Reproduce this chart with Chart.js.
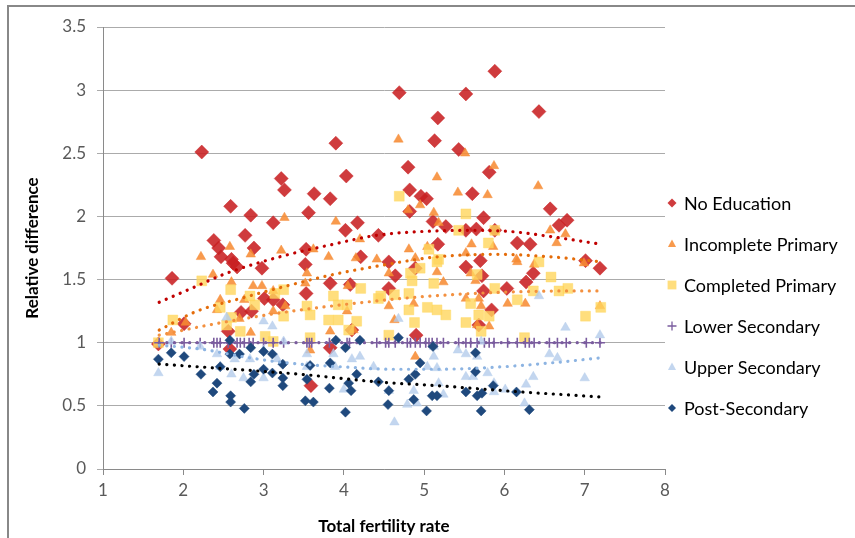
<!DOCTYPE html>
<html>
<head>
<meta charset="utf-8">
<script src="https://cdn.jsdelivr.net/npm/chart.js@4/dist/chart.umd.min.js"></script>
<style>
  body { margin: 0; background: #fff; }
  #wrap { position: relative; width: 855px; height: 538px; overflow: hidden; }
  #frame { position: absolute; left: 7px; top: 5px; width: 900px; height: 600px;
           border-left: 2px solid #888; border-top: 2px solid #888; }
  canvas { position: absolute; left: 0; top: 0; }
</style>
</head>
<body>
<div id="wrap">
  <div id="frame"></div>
  <canvas id="fertChart" width="855" height="538"></canvas>
</div>
<script>
// series names and tick values
const seriesNames = ['No Education', 'Incomplete Primary', 'Completed Primary',
                     'Lower Secondary', 'Upper Secondary', 'Post-Secondary'];
const xTickValues = [1, 2, 3, 4, 5, 6, 7, 8];
const yTickValues = [0, 0.5, 1, 1.5, 2, 2.5, 3, 3.5];

// No Education
const noEduX = [1.69, 1.86, 2.01, 2.23, 2.38, 2.44, 2.47, 2.59, 2.60, 2.62, 2.67, 2.56, 2.58, 2.72, 2.77, 2.84, 2.85, 2.88, 2.98, 3.01,
                3.12, 3.12, 3.22, 3.24, 3.26, 3.52, 3.53, 3.53, 3.56, 3.59, 3.63, 3.83, 3.83, 3.83, 3.90, 4.02, 4.03, 4.08, 4.10, 4.17,
                4.21, 4.43, 4.56, 4.56, 4.64, 4.69, 4.80, 4.82, 4.82, 4.89, 4.90, 4.96, 5.03, 5.11, 5.13, 5.17, 5.17, 5.27, 5.43, 5.52,
                5.52, 5.52, 5.60, 5.65, 5.68, 5.70, 5.72, 5.74, 5.74, 5.81, 5.84, 5.88, 5.88, 6.03, 6.16, 6.27, 6.32, 6.36, 6.43, 6.57,
                6.68, 6.78, 7.01, 7.19];
const noEduY = [0.99, 1.51, 1.15, 2.51, 1.81, 1.75, 1.68, 2.08, 1.66, 1.63, 1.60, 1.09, 0.95, 1.24, 1.85, 2.01, 1.25, 1.75, 1.59, 1.35,
                1.95, 1.34, 2.30, 1.30, 2.21, 1.62, 1.74, 1.39, 2.03, 0.66, 2.18, 2.14, 1.47, 0.96, 2.58, 1.89, 2.32, 1.46, 1.10, 1.95,
                1.68, 1.85, 1.64, 1.43, 1.53, 2.98, 2.39, 2.21, 2.04, 1.59, 1.06, 2.16, 2.14, 1.96, 2.60, 2.78, 1.78, 1.92, 2.53, 2.97,
                1.89, 1.60, 2.18, 1.90, 1.14, 1.65, 1.53, 1.99, 1.41, 2.35, 1.26, 3.15, 1.89, 1.43, 1.79, 1.48, 1.78, 1.55, 2.83, 2.06,
                1.93, 1.97, 1.65, 1.59];

// Incomplete Primary
const incPrimX = [1.69, 1.85, 2.03, 2.22, 2.37, 2.42, 2.46, 2.58, 2.60, 2.70, 2.76, 2.84, 2.84, 2.87, 2.98, 3.12, 3.12, 3.22, 3.26, 3.27,
                  3.52, 3.54, 3.58, 3.62, 3.81, 3.83, 3.90, 4.04, 4.05, 4.12, 4.15, 4.20, 4.41, 4.56, 4.56, 4.63, 4.68, 4.80, 4.81, 4.87,
                  4.89, 4.89, 4.95, 5.04, 5.12, 5.16, 5.16, 5.18, 5.24, 5.42, 5.51, 5.52, 5.52, 5.58, 5.59, 5.64, 5.66, 5.68, 5.71, 5.79,
                  5.81, 5.86, 5.87, 6.04, 6.15, 6.16, 6.26, 6.37, 6.42, 6.57, 6.65, 6.76, 6.99, 7.19];
const incPrimY = [1.00, 1.08, 1.16, 1.68, 1.54, 1.26, 1.34, 1.76, 1.48, 1.19, 1.34, 1.70, 1.08, 1.45, 1.45, 1.41, 1.25, 1.73, 1.99, 1.29,
                  1.47, 1.55, 0.94, 1.74, 1.68, 1.09, 1.96, 1.25, 1.45, 1.10, 1.67, 1.82, 1.66, 1.55, 1.29, 1.18, 2.61, 2.05, 1.74, 1.31,
                  1.67, 0.89, 2.09, 1.76, 2.03, 2.31, 1.56, 1.95, 1.48, 2.19, 2.50, 1.71, 1.35, 1.55, 1.78, 1.49, 1.14, 1.35, 1.29, 2.17,
                  1.13, 1.76, 2.40, 1.31, 1.66, 1.64, 1.31, 1.62, 2.24, 1.89, 1.79, 1.86, 1.63, 1.29];

// Completed Primary
const compPrimX = [1.69, 1.87, 2.23, 2.46, 2.54, 2.59, 2.60, 2.71, 2.83, 2.89, 3.02, 3.12, 3.14, 3.25, 3.25, 3.54, 3.58, 3.58, 3.81, 3.87,
                   3.93, 3.93, 4.04, 4.06, 4.16, 4.21, 4.43, 4.46, 4.56, 4.63, 4.69, 4.81, 4.81, 4.83, 4.85, 4.88, 4.95, 5.04, 5.06, 5.12,
                   5.16, 5.16, 5.18, 5.27, 5.43, 5.52, 5.52, 5.58, 5.66, 5.68, 5.71, 5.80, 5.81, 5.88, 5.88, 6.16, 6.25, 6.36, 6.43, 6.58,
                   6.68, 6.79, 7.01, 7.20];
const compPrimY = [1.00, 1.18, 1.49, 1.28, 1.14, 1.42, 1.20, 1.09, 1.37, 1.30, 1.05, 1.01, 1.39, 1.42, 1.21, 1.29, 1.22, 1.04, 1.18, 1.37,
                   1.18, 1.30, 1.30, 1.10, 1.17, 1.43, 1.35, 1.37, 1.06, 1.38, 2.16, 1.39, 1.26, 1.55, 1.49, 1.16, 1.59, 1.28, 1.74, 1.47,
                   1.64, 1.26, 1.66, 1.22, 1.89, 2.02, 1.16, 1.31, 1.54, 1.22, 1.09, 1.79, 1.21, 1.89, 1.43, 1.34, 1.04, 1.41, 1.64, 1.52,
                   1.41, 1.43, 1.21, 1.28];

// Lower Secondary
const lowSecX = [1.70, 1.85, 2.01, 2.21, 2.38, 2.42, 2.46, 2.56, 2.67, 2.71, 2.76, 2.82, 2.87, 3.00, 3.12, 3.25, 3.54, 3.57, 3.60, 3.82,
                 4.04, 4.07, 4.41, 4.52, 4.56, 4.64, 4.79, 4.83, 4.89, 4.95, 5.02, 5.06, 5.10, 5.16, 5.24, 5.43, 5.52, 5.58, 5.66, 5.75,
                 5.81, 5.87, 6.04, 6.16, 6.26, 6.31, 6.37, 6.56, 6.66, 6.77, 7.02, 7.19];
const lowSecY = [1, 1, 1, 1, 1, 1, 1, 1, 1, 1, 1, 1, 1, 1, 1, 1, 1, 1, 1, 1,
                 1, 1, 1, 1, 1, 1, 1, 1, 1, 1, 1, 1, 1, 1, 1, 1, 1, 1, 1, 1,
                 1, 1, 1, 1, 1, 1, 1, 1, 1, 1, 1, 1];

// Upper Secondary
const upSecX = [1.69, 1.85, 2.21, 2.42, 2.46, 2.54, 2.60, 2.64, 2.75, 2.83, 3.00, 3.00, 3.00, 3.11, 3.17, 3.25, 3.54, 3.54, 3.87, 3.89,
                4.00, 4.10, 4.20, 4.37, 4.56, 4.63, 4.68, 4.79, 4.87, 4.91, 5.04, 5.12, 5.12, 5.16, 5.18, 5.24, 5.42, 5.52, 5.52, 5.61,
                5.66, 5.71, 5.79, 5.87, 5.87, 6.01, 6.25, 6.27, 6.36, 6.43, 6.56, 6.66, 6.76, 7.00, 7.19];
const upSecY = [0.76, 1.01, 0.97, 0.91, 0.81, 1.20, 0.75, 0.87, 0.72, 0.87, 1.17, 0.94, 0.72, 1.13, 0.87, 1.01, 0.91, 0.81, 0.91, 0.81,
                0.63, 0.87, 0.89, 0.81, 0.62, 0.37, 1.19, 0.51, 0.62, 0.52, 0.81, 0.97, 0.89, 0.80, 0.68, 0.59, 0.94, 0.91, 0.73, 0.73,
                0.89, 1.01, 0.76, 0.68, 0.61, 0.63, 0.52, 0.67, 0.73, 1.37, 0.91, 0.88, 1.12, 0.72, 1.06];

// Post-Secondary
const postSecX = [1.69, 1.85, 2.01, 2.22, 2.37, 2.42, 2.46, 2.58, 2.58, 2.59, 2.59, 2.70, 2.76, 2.84, 2.84, 2.88, 3.00, 3.00, 3.11, 3.11,
                  3.24, 3.24, 3.24, 3.52, 3.54, 3.58, 3.62, 3.82, 3.83, 3.90, 4.02, 4.02, 4.06, 4.09, 4.16, 4.20, 4.43, 4.55, 4.56, 4.68,
                  4.81, 4.87, 4.89, 4.95, 5.03, 5.10, 5.11, 5.16, 5.52, 5.64, 5.64, 5.66, 5.71, 5.72, 5.86, 6.15, 6.31];
const postSecY = [0.87, 0.92, 0.89, 0.75, 0.61, 0.68, 0.81, 1.02, 0.91, 0.58, 0.53, 0.91, 0.48, 0.96, 0.69, 0.75, 0.93, 0.79, 0.91, 0.76,
                  0.83, 0.72, 0.66, 0.54, 0.71, 0.82, 0.53, 0.64, 0.84, 1.02, 0.96, 0.45, 0.68, 0.62, 0.75, 1.02, 0.69, 0.51, 0.62, 1.04,
                  0.71, 0.55, 0.75, 0.84, 0.46, 0.58, 0.97, 0.58, 0.61, 0.92, 0.77, 0.58, 0.46, 0.60, 0.66, 0.61, 0.47];

// Trendlines
const noEduTrendX = [1.70, 2.10, 2.54, 3.20, 3.87, 4.40, 4.95, 5.58, 6.08, 6.58, 7.20];
const noEduTrendY = [1.32, 1.43, 1.55, 1.68, 1.78, 1.85, 1.88, 1.89, 1.88, 1.84, 1.78];
const incPrimTrendX = [1.70, 2.17, 2.71, 3.29, 3.87, 4.45, 5.16, 5.91, 6.58, 7.20];
const incPrimTrendY = [1.10, 1.25, 1.35, 1.45, 1.54, 1.61, 1.68, 1.70, 1.68, 1.64];
const compPrimTrendX = [1.70, 2.40, 3.30, 4.40, 5.20, 6.00, 6.80, 7.20];
const compPrimTrendY = [1.06, 1.15, 1.245, 1.33, 1.375, 1.40, 1.41, 1.41];
const lowSecTrendX = [1.70, 7.20];
const lowSecTrendY = [1.00, 1.00];
const upSecTrendX = [1.70, 2.21, 2.83, 3.29, 3.95, 4.60, 5.16, 5.99, 6.58, 7.20];
const upSecTrendY = [0.98, 0.95, 0.88, 0.84, 0.81, 0.79, 0.79, 0.81, 0.84, 0.88];
const postSecTrendX = [1.70, 2.62, 3.46, 4.41, 5.16, 5.99, 7.20];
const postSecTrendY = [0.83, 0.79, 0.75, 0.69, 0.66, 0.62, 0.57];

const pts = (xs, ys) => xs.map((x, i) => ({ x: x, y: ys[i] }));

const FONT = "Lato, 'Open Sans', sans-serif";

const markerStyles = [
  { style: 'rectRot',  fill: 'rgba(200,32,34,0.88)',  stroke: 'rgba(200,32,34,0.88)',  r: 7,   lr: 4.5 },
  { style: 'triangle', fill: 'rgba(247,140,52,0.88)', stroke: 'rgba(247,140,52,0.88)', r: 5.5, lr: 4.5 },
  { style: 'rect',     fill: 'rgba(255,214,92,0.8)',  stroke: 'rgba(255,214,92,0.8)',  r: 7,   lr: 5.5 },
  { style: 'cross',    fill: '#7a5c9e',               stroke: '#7a5c9e',               r: 5,   lr: 4.5 },
  { style: 'triangle', fill: 'rgba(180,204,235,0.8)', stroke: 'rgba(180,204,235,0.8)', r: 5.5, lr: 4.5 },
  { style: 'rectRot',  fill: '#1f497d',               stroke: '#1f497d',               r: 5,   lr: 4 }
];
const trendColors = ['#c00000', '#e46c0a', '#f3903f', '#7a5c9e', '#8db4e2', '#000000'];

const scatterSets = [pts(noEduX, noEduY), pts(incPrimX, incPrimY), pts(compPrimX, compPrimY),
                     pts(lowSecX, lowSecY), pts(upSecX, upSecY), pts(postSecX, postSecY)];
const trendSets = [pts(noEduTrendX, noEduTrendY), pts(incPrimTrendX, incPrimTrendY), pts(compPrimTrendX, compPrimTrendY),
                   pts(lowSecTrendX, lowSecTrendY), pts(upSecTrendX, upSecTrendY), pts(postSecTrendX, postSecTrendY)];

const datasets = [];
scatterSets.forEach((data, i) => {
  const m = markerStyles[i];
  datasets.push({
    label: seriesNames[i],
    data: data,
    pointStyle: m.style,
    pointRadius: m.r,
    pointBackgroundColor: m.fill,
    pointBorderColor: m.stroke,
    pointBorderWidth: m.style === 'cross' ? 1.6 : 0.5,
    showLine: false,
    order: 20 - i
  });
});
trendSets.forEach((data, i) => {
  datasets.push({
    label: seriesNames[i] + ' trend',
    data: data,
    showLine: true,
    pointRadius: 0,
    borderColor: trendColors[i],
    borderWidth: 3.2,
    borderDash: [0.1, 7.5],
    borderCapStyle: 'round',
    cubicInterpolationMode: 'monotone',
    fill: false,
    order: i === 3 ? 15 : 1
  });
});

// marker shape for the side legend
function drawMarker(ctx, m, x, y) {
  const r = m.lr;
  ctx.save();
  ctx.fillStyle = m.fill;
  ctx.strokeStyle = m.stroke;
  ctx.lineWidth = 1.3;
  ctx.beginPath();
  if (m.style === 'rectRot') {
    ctx.moveTo(x - r, y); ctx.lineTo(x, y - r); ctx.lineTo(x + r, y); ctx.lineTo(x, y + r);
    ctx.closePath(); ctx.fill();
  } else if (m.style === 'triangle') {
    ctx.moveTo(x, y - r); ctx.lineTo(x + r * 0.9, y + r * 0.65); ctx.lineTo(x - r * 0.9, y + r * 0.65);
    ctx.closePath(); ctx.fill();
  } else if (m.style === 'rect') {
    ctx.rect(x - r * 0.8, y - r * 0.8, r * 1.6, r * 1.6); ctx.fill();
  } else {
    ctx.moveTo(x - r, y); ctx.lineTo(x + r, y); ctx.moveTo(x, y - r); ctx.lineTo(x, y + r); ctx.stroke();
  }
  ctx.restore();
}

const sideLegend = {
  id: 'sideLegend',
  afterDraw(chart) {
    const ctx = chart.ctx;
    const left = chart.chartArea.right + 7;
    ctx.save();
    ctx.font = '18px ' + FONT;
    ctx.fillStyle = '#000';
    ctx.textBaseline = 'middle';
    seriesNames.forEach((name, i) => {
      const y = 203 + i * 41;
      drawMarker(ctx, markerStyles[i], left, y);
      ctx.fillText(name, left + 12, y + 1);
    });
    ctx.restore();
  }
};

new Chart(document.getElementById('fertChart').getContext('2d'), {
  type: 'scatter',
  data: { datasets: datasets },
  options: {
    responsive: false,
    animation: false,
    layout: { padding: { top: 27, right: 190, left: 0, bottom: 0 } },
    plugins: { legend: { display: false }, tooltip: { enabled: false } },
    scales: {
      x: {
        type: 'linear',
        min: 1, max: 8,
        afterBuildTicks: s => { s.ticks = xTickValues.map(v => ({ value: v })); },
        afterFit: s => { s.height = 69; },
        grid: { drawOnChartArea: false, tickLength: 6, color: '#8a8a8a' },
        border: { color: '#8a8a8a', width: 1 },
        ticks: { color: '#595959', font: { family: FONT, size: 17 }, padding: 5, callback: v => String(v) },
        title: { display: true, text: 'Total fertility rate', color: '#000',
                 font: { family: FONT, size: 17, weight: 'bold' }, padding: { top: 0, bottom: 1 } }
      },
      y: {
        min: 0, max: 3.5,
        afterBuildTicks: s => { s.ticks = yTickValues.map(v => ({ value: v })); },
        afterFit: s => { s.width = 103; },
        grid: { color: '#ababab', tickLength: 6, lineWidth: 1 },
        border: { color: '#8a8a8a', width: 1 },
        ticks: { color: '#595959', font: { family: FONT, size: 17 }, padding: 11, callback: v => String(v) },
        title: { display: true, text: 'Relative difference', color: '#000',
                 font: { family: FONT, size: 17, weight: 'bold' }, padding: { top: 22, bottom: 0 } }
      }
    }
  },
  plugins: [sideLegend]
});
</script>
</body>
</html>
